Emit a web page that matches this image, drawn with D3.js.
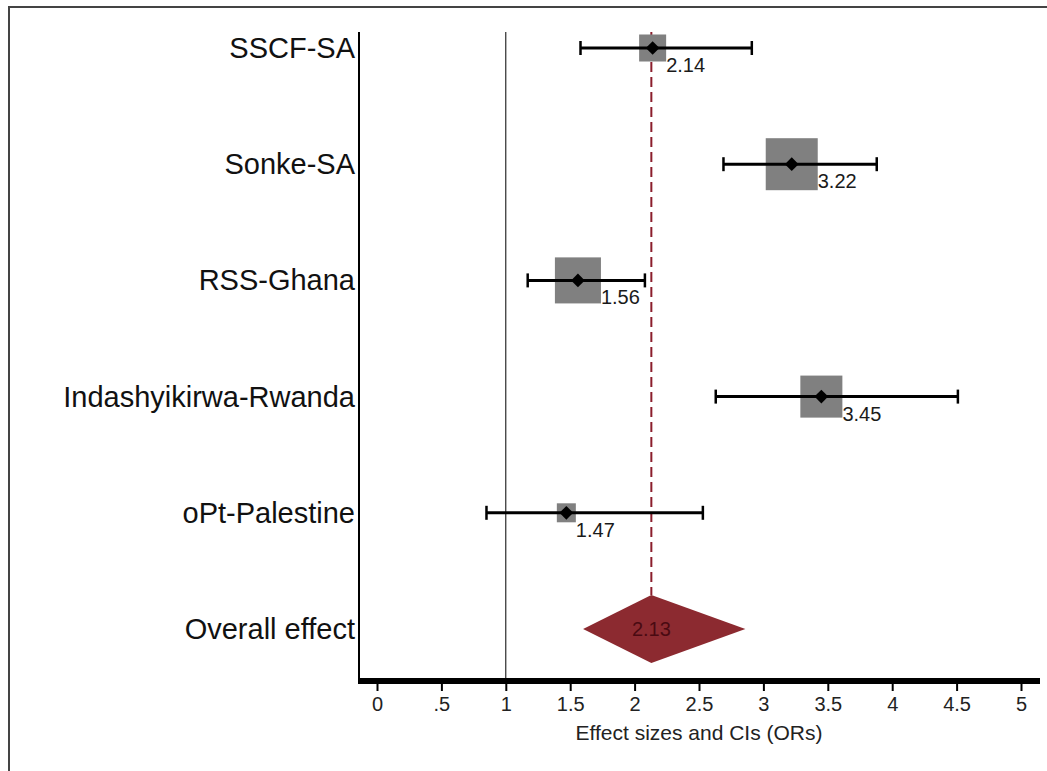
<!DOCTYPE html>
<html>
<head>
<meta charset="utf-8">
<title>Forest plot</title>
<script src="https://d3js.org/d3.v7.min.js"></script>
<style>
body { margin: 0; background: #fff; }
text { font-family: "Liberation Sans", Arial, sans-serif; }
</style>
</head>
<body>
<div id="chart"></div>
<script>
// study rows
var studies = ["SSCF-SA", "Sonke-SA", "RSS-Ghana", "Indashyikirwa-Rwanda", "oPt-Palestine"];
var estimates = [2.14, 3.22, 1.56, 3.45, 1.47];
var lowerCI = [1.58, 2.69, 1.17, 2.63, 0.85];
var upperCI = [2.91, 3.88, 2.08, 4.51, 2.53];
var weights = [9.5, 35.2, 27.6, 23.0, 4.7];

// pooled estimate
var overallLabel = "Overall effect";
var overallEst = 2.13;
var overallLow = 1.60;
var overallHigh = 2.86;

var xTicks = [0, 0.5, 1, 1.5, 2, 2.5, 3, 3.5, 4, 4.5, 5];
var xTickLabels = ["0", ".5", "1", "1.5", "2", "2.5", "3", "3.5", "4", "4.5", "5"];
var xTitle = "Effect sizes and CIs (ORs)";

var width = 1047, height = 771;

var svg = d3.select("#chart").append("svg")
    .attr("width", width)
    .attr("height", height);

// outer frame (only top and left edges visible)
svg.append("path")
    .attr("d", "M9,771 L9,7 L1047,7")
    .attr("fill", "none")
    .attr("stroke", "#444")
    .attr("stroke-width", 2);

var x = d3.scaleLinear().domain([0, 5]).range([377, 1021]);
var rows = studies.concat([overallLabel]);
var y = d3.scalePoint().domain(rows).range([48, 629]);
var box = d3.scaleSqrt().domain([0, d3.max(weights)]).range([0, 52]);

var plotTop = 32, plotBottom = 681, plotLeft = 359, plotRight = 1040;

// reference line at OR = 1
svg.append("line")
    .attr("x1", x(1)).attr("x2", x(1))
    .attr("y1", plotTop).attr("y2", plotBottom)
    .attr("stroke", "#000")
    .attr("stroke-width", 1);

// dashed line at pooled estimate
svg.append("line")
    .attr("x1", x(overallEst)).attr("x2", x(overallEst))
    .attr("y1", plotTop).attr("y2", y(overallLabel) - 34)
    .attr("stroke", "#8b1e2c")
    .attr("stroke-width", 2)
    .attr("stroke-dasharray", "10,5");

var data = studies.map(function(s, i) {
  return {name: s, est: estimates[i], lo: lowerCI[i], hi: upperCI[i], w: weights[i]};
});

var g = svg.selectAll(".study").data(data).enter().append("g").attr("class", "study");

// weight boxes
g.append("rect")
    .attr("x", function(d) { return x(d.est) - box(d.w) / 2; })
    .attr("y", function(d) { return y(d.name) - box(d.w) / 2; })
    .attr("width", function(d) { return box(d.w); })
    .attr("height", function(d) { return box(d.w); })
    .attr("fill", "#808080");

// CI whiskers
g.append("line")
    .attr("x1", function(d) { return x(d.lo); })
    .attr("x2", function(d) { return x(d.hi); })
    .attr("y1", function(d) { return y(d.name); })
    .attr("y2", function(d) { return y(d.name); })
    .attr("stroke", "#000").attr("stroke-width", 3);

["lo", "hi"].forEach(function(k) {
  g.append("line")
      .attr("x1", function(d) { return x(d[k]); })
      .attr("x2", function(d) { return x(d[k]); })
      .attr("y1", function(d) { return y(d.name) - 7; })
      .attr("y2", function(d) { return y(d.name) + 7; })
      .attr("stroke", "#000").attr("stroke-width", 2.5);
});

// point markers
g.append("path")
    .attr("d", d3.symbol().type(d3.symbolDiamond2).size(120))
    .attr("transform", function(d) { return "translate(" + x(d.est) + "," + y(d.name) + ")"; })
    .attr("fill", "#000");

// value labels
g.append("text")
    .attr("x", function(d) { return x(d.est) + box(d.w) / 2; })
    .attr("y", function(d) { return y(d.name) + 24; })
    .attr("font-size", 20)
    .attr("fill", "#1a1a1a")
    .text(function(d) { return d3.format(".2f")(d.est); });

// pooled diamond
var yo = y(overallLabel);
svg.append("path")
    .attr("d", "M" + x(overallLow) + "," + yo +
               "L" + x(overallEst) + "," + (yo - 34) +
               "L" + x(overallHigh) + "," + yo +
               "L" + x(overallEst) + "," + (yo + 34) + "Z")
    .attr("fill", "#8c2a30");

svg.append("text")
    .attr("x", x(overallEst))
    .attr("y", yo + 7)
    .attr("text-anchor", "middle")
    .attr("font-size", 20)
    .attr("fill", "#4a0a12")
    .text(d3.format(".2f")(overallEst));

// row labels
svg.selectAll(".rowlab").data(rows).enter().append("text")
    .attr("class", "rowlab")
    .attr("x", 355)
    .attr("y", function(d) { return y(d) + 10; })
    .attr("text-anchor", "end")
    .attr("font-size", 29)
    .attr("fill", "#111")
    .text(function(d) { return d; });

// y axis line
svg.append("line")
    .attr("x1", plotLeft).attr("x2", plotLeft)
    .attr("y1", plotTop).attr("y2", plotBottom)
    .attr("stroke", "#000").attr("stroke-width", 2);

// x axis
var xAxis = svg.append("g")
    .attr("transform", "translate(0," + plotBottom + ")")
    .call(d3.axisBottom(x).tickValues(xTicks)
      .tickFormat(function(d, i) { return xTickLabels[i]; })
      .tickSize(10).tickPadding(6));
xAxis.select(".domain").remove();
xAxis.selectAll(".tick line").attr("stroke-width", 2);
xAxis.selectAll(".tick text")
    .attr("font-size", 20)
    .attr("fill", "#222")
    .style("font-family", "'Liberation Sans', Arial, sans-serif");

svg.append("line")
    .attr("x1", plotLeft - 1).attr("x2", plotRight)
    .attr("y1", plotBottom).attr("y2", plotBottom)
    .attr("stroke", "#000").attr("stroke-width", 6);

svg.append("text")
    .attr("x", (x(0) + x(5)) / 2)
    .attr("y", 740)
    .attr("text-anchor", "middle")
    .attr("font-size", 21)
    .attr("fill", "#222")
    .text(xTitle);
</script>
</body>
</html>
